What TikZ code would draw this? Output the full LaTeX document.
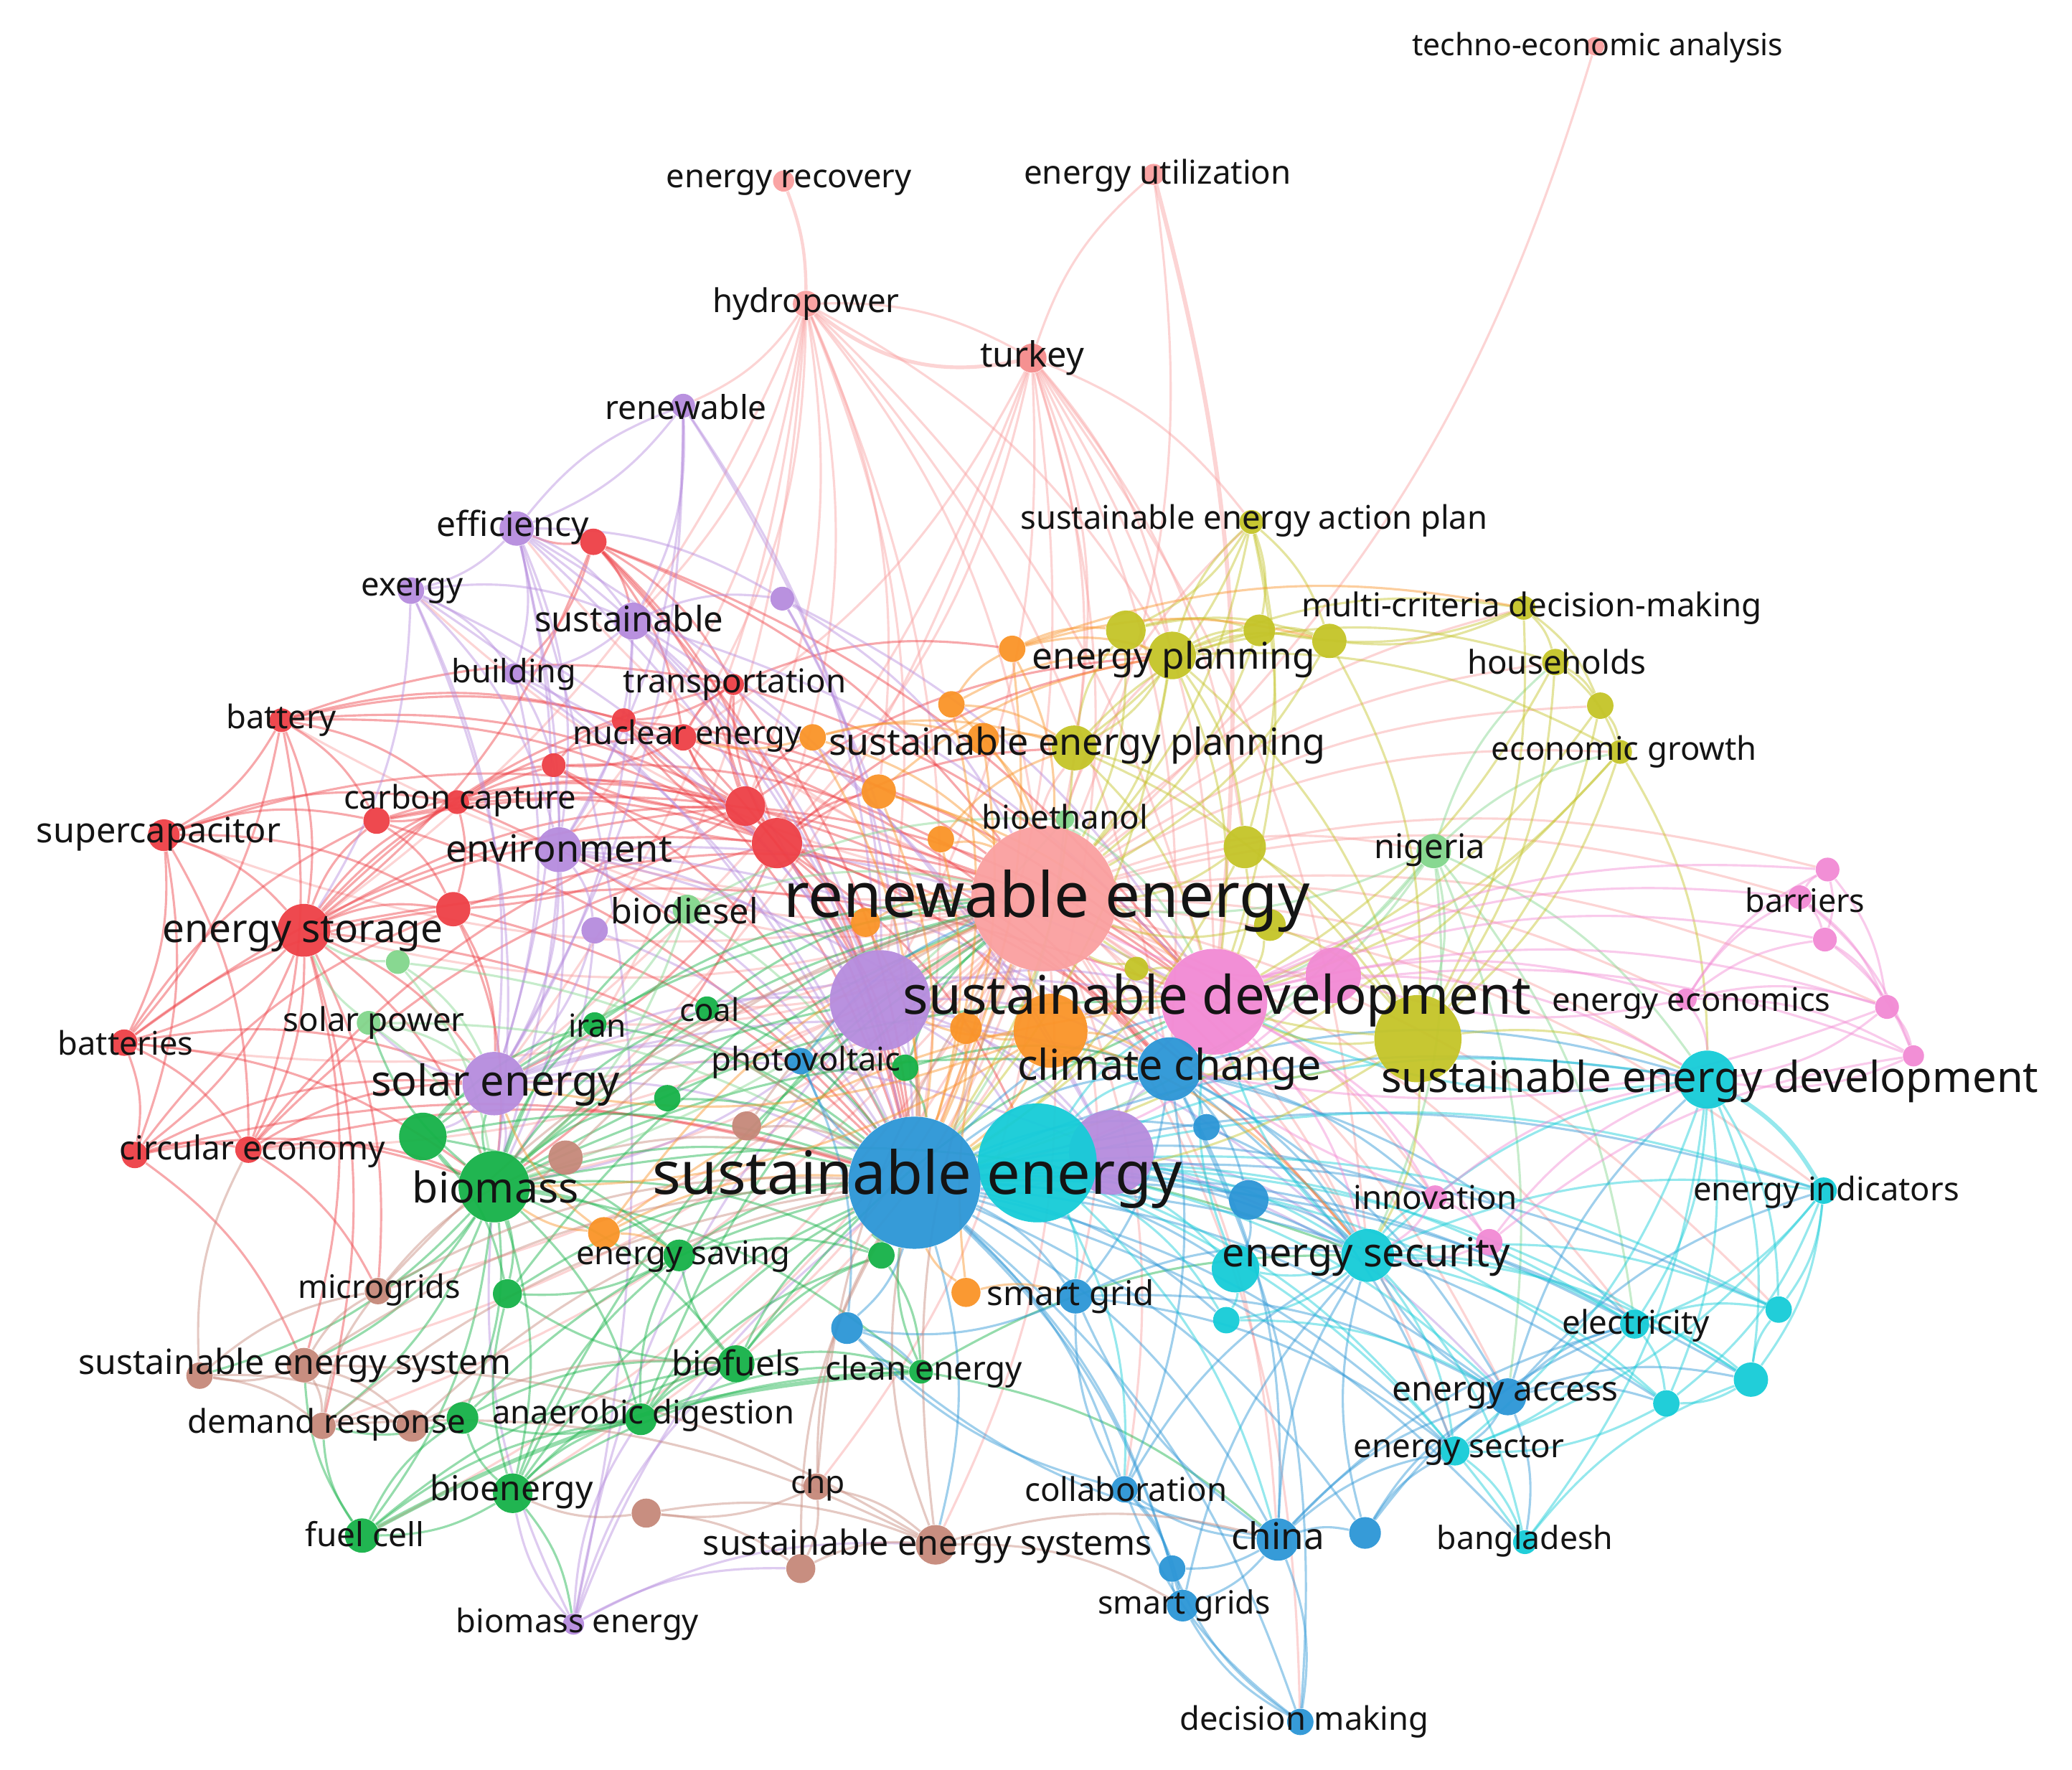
\documentclass[tikz,border=0pt]{standalone}
\usepackage{fontspec}
\setmainfont{Noto Sans}
\pgfdeclarelayer{bg}
\pgfdeclarelayer{edges}
\pgfsetlayers{bg,edges,main}
\definecolor{cR}{RGB}{238,64,70}
\definecolor{cG}{RGB}{22,178,72}
\definecolor{cLG}{RGB}{130,214,140}
\definecolor{cB}{RGB}{44,150,214}
\definecolor{cC}{RGB}{22,204,216}
\definecolor{cY}{RGB}{196,196,40}
\definecolor{cP}{RGB}{182,140,222}
\definecolor{cO}{RGB}{250,148,40}
\definecolor{cBr}{RGB}{198,136,122}
\definecolor{cPk}{RGB}{242,138,212}
\definecolor{cS}{RGB}{250,160,160}
\definecolor{cS2}{RGB}{245,140,140}
\tikzset{
  nd/.style 2 args={circle, fill=#1, draw=none, inner sep=0pt, minimum size=#2pt, fill opacity=0.95},
  lb/.style={font=\fontsize{#1}{#1}\selectfont, text=black!92, inner sep=0pt},
  ed/.style={draw=#1, line width=0.85pt, draw opacity=0.45},
}
\begin{document}
\begin{tikzpicture}[x=0.5pt, y=-0.5pt]
\begin{pgfonlayer}{bg}
\fill[white] (0,0) rectangle (1568,1339);
\end{pgfonlayer}
\useasboundingbox (0,0) rectangle (1568,1339);
% ---------------- nodes ----------------
\node[nd={cS}{7}] (tea) at (1207,35) {};
\node[nd={cS}{8}] (erc) at (593,137) {};
\node[nd={cS}{8}] (eut) at (873,132) {};
\node[nd={cS}{10}] (hyd) at (610,230) {};
\node[nd={cS2}{11}] (tur) at (781,271) {};
\node[nd={cP}{9}] (ren) at (517,307) {};
\node[nd={cP}{13}] (eff) at (391,400) {};
\node[nd={cR}{10}] (rE) at (449,410) {};
\node[nd={cP}{10}] (exg) at (311,447) {};
\node[nd={cP}{14}] (sus) at (479,470) {};
\node[nd={cP}{9}] (pU) at (592,453) {};
\node[nd={cP}{8}] (bld) at (389,510) {};
\node[nd={cR}{8}] (trn) at (555,518) {};
\node[nd={cR}{9}] (bat) at (213,545) {};
\node[nd={cR}{9}] (r1) at (472,545) {};
\node[nd={cR}{10}] (nuc) at (517,558) {};
\node[nd={cO}{10}] (o1) at (615,558) {};
\node[nd={cR}{9}] (r2) at (419,579) {};
\node[nd={cR}{9}] (cc) at (346,607) {};
\node[nd={cR}{10}] (r3) at (285,621) {};
\node[nd={cR}{12}] (sup) at (124,632) {};
\node[nd={cP}{17}] (env) at (423,643) {};
\node[nd={cR}{15}] (r5) at (564,610) {};
\node[nd={cR}{19}] (r4) at (588,638) {};
\node[nd={cO}{13}] (o2) at (665,599) {};
\node[nd={cO}{10}] (o3) at (712,635) {};
\node[nd={cO}{10}] (o4) at (720,533) {};
\node[nd={cO}{10}] (o5) at (766,491) {};
\node[nd={cO}{12}] (o6) at (744,559) {};
\node[nd={cLG}{7}] (bet) at (806,620) {};
\node[nd={cY}{15}] (y1) at (852,477) {};
\node[nd={cY}{18}] (ep) at (887,496) {};
\node[nd={cY}{12}] (y2) at (953,477) {};
\node[nd={cY}{13}] (y3) at (1006,485) {};
\node[nd={cY}{9}] (seap) at (947,395) {};
\node[nd={cY}{9}] (mcdm) at (1153,460) {};
\node[nd={cY}{10}] (hh) at (1177,501) {};
\node[nd={cY}{10}] (y4) at (1211,534) {};
\node[nd={cY}{9}] (eg) at (1226,569) {};
\node[nd={cY}{17}] (sep) at (813,566) {};
\node[nd={cY}{16}] (y5) at (942,641) {};
\node[nd={cLG}{13}] (nig) at (1085,644) {};
\node[nd={cS}{55}] (re) at (790,680) {};
\node[nd={cY}{9}] (y6) at (860,733) {};
\node[nd={cY}{12}] (y7) at (961,700) {};
\node[nd={cPk}{9}] (p1) at (1383,658) {};
\node[nd={cPk}{9}] (bar) at (1362,679) {};
\node[nd={cPk}{9}] (p2) at (1381,711) {};
\node[nd={cPk}{9}] (p3) at (1428,762) {};
\node[nd={cPk}{8}] (p4) at (1448,799) {};
\node[nd={cPk}{8}] (eec) at (1276,756) {};
\node[nd={cPk}{40}] (sd) at (919,758) {};
\node[nd={cPk}{21}] (p5) at (1009,738) {};
\node[nd={cY}{33}] (y8) at (1073,786) {};
\node[nd={cC}{22}] (sed) at (1292,817) {};
\node[nd={cC}{10}] (ei) at (1380,901) {};
\node[nd={cP}{38}] (pu2) at (666,757) {};
\node[nd={cO}{12}] (o7) at (731,778) {};
\node[nd={cO}{28}] (o8) at (795,780) {};
\node[nd={cB}{24}] (cch) at (885,809) {};
\node[nd={cP}{32}] (pu3) at (841,872) {};
\node[nd={cC}{45}] (cy1) at (785,880) {};
\node[nd={cB}{50}] (se) at (692,895) {};
\node[nd={cB}{10}] (b1) at (913,853) {};
\node[nd={cB}{15}] (b2) at (945,908) {};
\node[nd={cPk}{9}] (inn) at (1086,906) {};
\node[nd={cPk}{10}] (p6) at (1127,940) {};
\node[nd={cC}{20}] (es) at (1035,950) {};
\node[nd={cC}{18}] (cy2) at (935,960) {};
\node[nd={cC}{10}] (cy3) at (928,999) {};
\node[nd={cB}{13}] (sg) at (814,981) {};
\node[nd={cO}{11}] (o9) at (731,978) {};
\node[nd={cG}{10}] (g1) at (667,950) {};
\node[nd={cB}{12}] (b3) at (641,1005) {};
\node[nd={cC}{11}] (ele) at (1237,1002) {};
\node[nd={cC}{10}] (cy4) at (1346,991) {};
\node[nd={cC}{13}] (cy5) at (1325,1044) {};
\node[nd={cC}{10}] (cy6) at (1261,1062) {};
\node[nd={cB}{14}] (ea) at (1141,1057) {};
\node[nd={cC}{11}] (esc) at (1101,1098) {};
\node[nd={cB}{10}] (col) at (851,1127) {};
\node[nd={cB}{16}] (chn) at (967,1165) {};
\node[nd={cB}{12}] (b4) at (1033,1160) {};
\node[nd={cC}{9}] (bgd) at (1154,1167) {};
\node[nd={cB}{10}] (b5) at (887,1187) {};
\node[nd={cB}{12}] (sgs) at (895,1215) {};
\node[nd={cB}{10}] (dm) at (984,1303) {};
\node[nd={cBr}{15}] (sess) at (708,1169) {};
\node[nd={cBr}{11}] (br1) at (606,1187) {};
\node[nd={cBr}{10}] (chp) at (618,1125) {};
\node[nd={cBr}{11}] (br2) at (489,1145) {};
\node[nd={cP}{8}] (bme) at (434,1229) {};
\node[nd={cG}{15}] (bie) at (388,1130) {};
\node[nd={cG}{13}] (fc) at (274,1162) {};
\node[nd={cBr}{10}] (dr) at (244,1079) {};
\node[nd={cBr}{12}] (br3) at (312,1079) {};
\node[nd={cG}{12}] (g2) at (350,1073) {};
\node[nd={cG}{12}] (ad) at (485,1074) {};
\node[nd={cBr}{13}] (ses) at (230,1033) {};
\node[nd={cBr}{10}] (br4) at (151,1041) {};
\node[nd={cG}{14}] (bf) at (557,1032) {};
\node[nd={cG}{9}] (ce) at (697,1038) {};
\node[nd={cG}{12}] (esv) at (514,950) {};
\node[nd={cO}{12}] (o10) at (457,933) {};
\node[nd={cBr}{10}] (mg) at (286,977) {};
\node[nd={cG}{11}] (g3) at (384,979) {};
\node[nd={cG}{27}] (bm) at (374,898) {};
\node[nd={cBr}{13}] (br5) at (428,876) {};
\node[nd={cG}{18}] (g4) at (320,860) {};
\node[nd={cP}{24}] (sen) at (374,820) {};
\node[nd={cR}{10}] (ceco) at (188,870) {};
\node[nd={cR}{10}] (r6) at (102,874) {};
\node[nd={cR}{10}] (bts) at (94,789) {};
\node[nd={cLG}{9}] (sp) at (279,774) {};
\node[nd={cG}{9}] (irn) at (450,775) {};
\node[nd={cG}{9}] (coal) at (535,763) {};
\node[nd={cB}{10}] (pv) at (606,803) {};
\node[nd={cG}{10}] (g5) at (685,808) {};
\node[nd={cG}{10}] (g6) at (505,831) {};
\node[nd={cBr}{11}] (br6) at (565,852) {};
\node[nd={cR}{20}] (est) at (230,704) {};
\node[nd={cLG}{9}] (lg1) at (301,728) {};
\node[nd={cR}{13}] (r7) at (343,688) {};
\node[nd={cLG}{11}] (bd) at (520,688) {};
\node[nd={cP}{10}] (pu4) at (450,704) {};
\node[nd={cO}{11}] (o11) at (655,698) {};
% ---------------- edges ----------------
\begin{pgfonlayer}{edges}
\foreach \a/\b in {hyd/tur, hyd/ren, hyd/re, hyd/env, hyd/sus, hyd/sen, hyd/se, hyd/sd, hyd/r5, hyd/bm, hyd/cch, hyd/nuc, hyd/est, hyd/ep, hyd/r4, hyd/o2, hyd/pu2,
 tur/eut, tur/re, tur/sd, tur/se, tur/ep, tur/sep, tur/cch, tur/bm, tur/sen, tur/nuc, tur/y5, tur/seap, tur/es, tur/r4, tur/pu2, tur/o8,
 eut/re, tea/re,
 re/se, re/sd, re/cch, re/sen, re/bm, re/est, re/env, re/es, re/sed, re/nig, re/ep, re/sep, re/sus, re/eff, re/bat, re/sup, re/bts, re/ceco, re/bf, re/bie, re/sg, re/chn, re/ea, re/ele, re/bar, re/eec, re/hh, re/mcdm, re/eg, re/seap, re/pv, re/coal, re/irn, re/bd, re/chp, re/mg, re/fc, re/ad, re/inn, re/dm, re/col, re/ei, re/ses, re/dr, re/sess, re/esc, re/p1, re/p3, re/cy4, re/y4, re/exg}
  \draw[ed=cS] (\a) to[bend left=15] (\b);
\draw[ed=cS, line width=1.2pt] (hyd) to[bend right=10] (erc);
\draw[ed=cS, line width=1.6pt] (eut) to[bend left=10] (sd);
\draw[ed=cS, line width=1.4pt] (hyd) to[bend right=25] (tur);
\foreach \a/\b in {rE/sus, rE/bld, rE/est, rE/r5, rE/re, rE/trn, rE/nuc, rE/r4, rE/eff, rE/se, rE/sd,
 bat/sup, bat/est, bat/bts, bat/ceco, bat/r3, bat/cc, bat/trn, bat/nuc, bat/r5, bat/r4, bat/r1,
 sup/est, sup/bts, sup/ceco, sup/cc, sup/r3, sup/r6, sup/r5, sup/r7,
 est/bts, est/ceco, est/r6, est/r7, est/cc, est/r3, est/r2, est/r5, est/r4, est/sen, est/bm, est/se, est/sd, est/mg, est/ses, est/dr, est/trn,
 bts/ceco, bts/r6, bts/r3, bts/sen, bts/bm, bts/r5, bts/r7,
 r6/ceco, r6/bm, r6/sen, r6/se, r6/ses, r6/r7,
 ceco/bm, ceco/se, ceco/sen, ceco/r5, ceco/mg, ceco/r4,
 cc/r3, cc/r2, cc/r5, cc/r4, cc/nuc, cc/r7, cc/se,
 r3/r7, r3/r4, r3/r5, r3/re, r3/se,
 r4/se, r4/sd, r4/cch, r4/trn, r4/nuc, r4/r1, r4/r2, r4/pu2, r4/o8, r4/ep, r4/sep, r4/o2, r4/cy1, r4/es, r4/bm, r4/sen,
 r5/se, r5/sd, r5/trn, r5/nuc, r5/r1, r5/r2, r5/ep, r5/o1, r5/cch, r5/r7, r5/pu2,
 nuc/trn, nuc/r1, nuc/r2, nuc/se, nuc/cch, nuc/sd,
 trn/r1, trn/se, trn/sd, trn/o5,
 r7/sen, r7/bm, r7/se, r7/re,
 r2/se, r2/re, r2/r1, r1/se, r1/re}
  \draw[ed=cR] (\a) to[bend left=15] (\b);
\foreach \a/\b in {eff/exg, eff/sus, eff/bld, eff/ren, eff/env, eff/sen, eff/se, eff/pu2, eff/pu3, eff/bme, eff/pU, eff/bm,
 exg/sus, exg/bld, exg/env, exg/sen, exg/pu2, exg/bm, exg/est, exg/se,
 sus/bld, sus/env, sus/pu2, sus/se, sus/sen, sus/pU, sus/sd, sus/pu3,
 ren/sus, ren/env, ren/pu2, ren/se, ren/eff, ren/sen,
 pU/pu2, pU/se, pU/re, pU/sd,
 bld/env, bld/se, bld/pu2, bld/sen,
 env/pu2, env/sen, env/pu4, env/se, env/sd, env/bm, env/cch, env/pu3,
 sen/pu2, sen/se, sen/bm, sen/pu3, sen/pv, sen/sp, sen/g4, sen/sd, sen/cch,
 pu2/se, pu2/sd, pu2/cch, pu2/cy1, pu2/pu3, pu2/bm, pu2/es,
 pu3/se, pu3/sd, pu3/cch, pu3/es, pu3/ea,
 bme/bie, bme/bm, bme/sess, bme/br1, bme/pu2, bme/ad, bme/bf, bme/se,
 pu4/sen, pu4/se, pu4/bm}
  \draw[ed=cP] (\a) to[bend left=15] (\b);
\foreach \a/\b in {bm/g4, bm/sen, bm/bie, bm/fc, bm/ad, bm/bf, bm/g3, bm/esv, bm/se, bm/re, bm/irn, bm/coal, bm/g6, bm/g2, bm/ce, bm/g1, bm/sd, bm/cch, bm/bd, bm/sp, bm/ses, bm/mg, bm/dr, bm/br4, bm/pu2, bm/es,
 bie/fc, bie/ad, bie/g2, bie/bf, bie/g3, bie/se, bie/re, bie/ce, bie/esv, bie/bme,
 fc/g2, fc/ad, fc/bf, fc/ses, fc/dr,
 ad/bf, ad/g2, ad/se, ad/re, ad/esv, ad/g1, ad/ce,
 bf/se, bf/ce, bf/esv, bf/g1, bf/g3, bf/sd,
 g4/sen, g4/se, g4/re, g4/esv, g4/irn, g4/g3,
 esv/se, esv/g1, esv/re, esv/g3,
 g1/se, g1/ce,
 ce/se, ce/es, ce/chn,
 irn/se, irn/re, coal/se, coal/re, g6/se, g6/re, g5/se, g5/re, g5/cch, g3/se, g3/re, g2/se, g2/dr, g2/bf}
  \draw[ed=cG] (\a) to[bend left=15] (\b);
\draw[ed=cG, line width=1.6pt] (fc) to[bend left=12] (ce);
\foreach \a/\b in {bd/re, bd/se, bd/bm, bd/bet, bd/sen, bet/re, bet/se, bet/sd, bet/bm,
 nig/re, nig/sd, nig/se, nig/es, nig/sed, nig/eg, nig/hh, nig/ea, nig/ele, nig/cch, nig/y8,
 sp/est, sp/sen, sp/bm, sp/se, lg1/est, lg1/bm, lg1/sen, lg1/se}
  \draw[ed=cLG] (\a) to[bend left=15] (\b);
\foreach \a/\b in {se/sd, se/cch, se/es, se/sg, se/chn, se/ea, se/ele, se/sed, se/col, se/dm, se/sgs, se/b5, se/b4, se/esc, se/b1, se/b2, se/b3, se/pv, se/inn, se/ei, se/cy4, se/cy5, se/cy6, se/bgd, se/sess, se/cy2, se/cy3,
 cch/sd, cch/es, cch/chn, cch/ea, cch/sed, cch/b2, cch/sg, cch/col, cch/inn, cch/ele, cch/dm, cch/b1, cch/esc,
 chn/sgs, chn/b5, chn/b4, chn/col, chn/dm, chn/es, chn/esc, chn/ea, chn/sg, chn/b3, chn/ele,
 dm/b5, dm/sgs, dm/col,
 col/sgs, col/b5, col/sg, col/b3, col/es,
 sgs/b5, sgs/es,
 sg/b3, sg/es, sg/ea, sg/esc,
 b4/esc, b4/ea, b4/es, b4/ele,
 ea/esc, ea/es, ea/cy6, ea/cy5, ea/ele, ea/ei, ea/sed, ea/bgd,
 pv/b3, pv/re, b1/es, b2/es, b2/cy2, b3/ce}
  \draw[ed=cB] (\a) to[bend left=15] (\b);
\foreach \a/\b in {cy1/sd, cy1/es, cy1/sed, cy1/ea, cy1/ele, cy1/chn, cy1/cy2, cy1/cy3, cy1/esc, cy1/ei, cy1/cy4, cy1/cy5, cy1/cy6, cy1/bgd, cy1/sg, cy1/col, cy1/cch,
 es/sed, es/ele, es/ei, es/cy4, es/cy5, es/cy6, es/esc, es/bgd, es/cy2, es/cy3, es/inn, es/sd,
 sed/ele, sed/cy4, sed/cy5, sed/cy6, sed/esc, sed/bgd, sed/sd,
 ei/cy4, ei/cy5, ei/ele, ei/cy6, ei/esc,
 ele/cy4, ele/cy5, ele/cy6, ele/esc,
 cy5/cy6, cy5/cy4, cy6/esc, esc/bgd, bgd/cy5, cy2/cy3, cy2/sd, cy3/ea}
  \draw[ed=cC] (\a) to[bend left=15] (\b);
\draw[ed=cC, line width=1.6pt] (sed) to[bend left=14] (ei);
\foreach \a/\b in {ep/y1, ep/y2, ep/y3, ep/seap, ep/mcdm, ep/hh, ep/sep, ep/re, ep/sd, ep/se, ep/y5, ep/y8, ep/eg,
 seap/y1, seap/y2, seap/y3, seap/sep, seap/y5, seap/sd, seap/re,
 mcdm/hh, mcdm/y4, mcdm/y3, mcdm/y8, mcdm/y2,
 hh/y4, hh/eg, hh/y8, hh/sd,
 y4/eg, y4/y8, y4/sd,
 eg/y8, eg/sd, eg/se, eg/sed,
 sep/y5, sep/se, sep/sd, sep/y1, sep/y8, sep/y2,
 y5/re, y5/y8, y5/sd, y5/se,
 y8/sd, y8/re, y8/se, y8/cch, y8/sed, y8/es,
 y1/y2, y1/y3, y2/y3, y1/re, y2/re, y3/re, y3/y8,
 y6/re, y6/sd, y6/se, y7/re, y7/sd, y7/y8}
  \draw[ed=cY] (\a) to[bend left=15] (\b);
\foreach \a/\b in {o8/se, o8/re, o8/sd, o8/cch, o8/sen, o8/bm, o8/o7, o8/es, o8/pu2,
 o1/re, o1/se, o1/sep, o1/o6, o1/nuc,
 o2/re, o2/se, o2/sd, o2/ep,
 o3/re, o3/se, o3/sep,
 o4/re, o4/se, o4/ep, o4/o5, o4/sep,
 o5/ep, o5/re, o5/se, o5/y1, o5/mcdm, o5/y3,
 o6/re, o6/se, o6/sep,
 o7/se, o7/re, o9/se, o9/sg, o9/re,
 o10/bm, o10/se, o10/re, o10/esv, o10/sd, o10/sen,
 o11/re, o11/se}
  \draw[ed=cO] (\a) to[bend left=15] (\b);
\foreach \a/\b in {sd/p5, sd/eec, sd/bar, sd/p1, sd/p2, sd/p3, sd/p4, sd/inn, sd/p6, sd/es,
 eec/bar, eec/p1, eec/p2, eec/p3, eec/p4, eec/sed, eec/p5,
 bar/p1, bar/p2, bar/p3, bar/p4,
 p1/p2, p1/p3, p2/p3, p2/p4, p3/p4,
 p3/sed, p4/sed, p3/cch,
 inn/p6, inn/es, inn/sed, inn/re,
 p6/es, p6/sed, p6/p4,
 p5/re, p5/se, p5/sed}
  \draw[ed=cPk] (\a) to[bend left=15] (\b);
\foreach \a/\b in {ses/br4, ses/dr, ses/mg, ses/br3, ses/sess, ses/se,
 br4/mg, br4/br3, br4/ceco, br4/dr,
 dr/mg, dr/br3, dr/sess, dr/se,
 mg/br5, mg/se, mg/re,
 br5/se, br5/re, br5/bm,
 br6/se, br6/re,
 chp/sess, chp/br2, chp/br1, chp/se, chp/re,
 br2/sess, br2/br1, br2/bie,
 br1/sess, br1/se,
 sess/se, sess/sgs, sess/chn, sess/re,
 br3/se, br3/bf}
  \draw[ed=cBr] (\a) to[bend left=15] (\b);
\end{pgfonlayer}
% ---------------- labels ----------------
\node[lb=11.6] (Ltea) at (1209,36) {techno-economic analysis};
\node[lb=12.3] (Lerc) at (597,138) {energy recovery};
\node[lb=12.4] (Leut) at (876,133) {energy utilization};
\node[lb=12.4] (Lhyd) at (610,230) {hydropower};
\node[lb=13.2] (Ltur) at (781,271) {turkey};
\node[lb=12.5] (Lren) at (519,308) {renewable};
\node[lb=13] (Leff) at (388,399) {efficiency};
\node[lb=12.3] (Lexg) at (312,447) {exergy};
\node[lb=13.3] (Lsus) at (476,468) {sustainable};
\node[lb=12.2] (Lbld) at (389,510) {building};
\node[lb=12.4] (Ltrn) at (556,518) {transportation};
\node[lb=12.3] (Lbat) at (213,545) {battery};
\node[lb=12.3] (Lnuc) at (520,557) {nuclear energy};
\node[lb=12.3] (Lcc) at (348,606) {carbon capture};
\node[lb=13.2] (Lsup) at (120,631) {supercapacitor};
\node[lb=14.2] (Lenv) at (423,642) {environment};
\node[lb=13.2] (Lbd) at (518,689) {biodiesel};
\node[lb=14.9] (Lest) at (229,707) {energy storage};
\node[lb=12.4] (Lsp) at (283,774) {solar power};
\node[lb=12] (Lirn) at (452,776) {iran};
\node[lb=11.9] (Lcoal) at (537,764) {coal};
\node[lb=12.3] (Lbts) at (95,789) {batteries};
\node[lb=12.3] (Lpv) at (610,804) {photovoltaic};
\node[lb=16.1] (Lsen) at (375,821) {solar energy};
\node[lb=12.5] (Lceco) at (191,871) {circular economy};
\node[lb=16] (Lbm) at (375,898) {biomass};
\node[lb=22.5] (Lse) at (694,892) {sustainable energy};
\node[lb=12.3] (Lesv) at (517,951) {energy saving};
\node[lb=12.2] (Lmg) at (287,976) {microgrids};
\node[lb=12.9] (Lsg) at (810,981) {smart grid};
\node[lb=13.1] (Lses) at (223,1033) {sustainable energy system};
\node[lb=13] (Lbf) at (557,1031) {biofuels};
\node[lb=12.4] (Lce) at (699,1038) {clean energy};
\node[lb=12.4] (Ldr) at (247,1078) {demand response};
\node[lb=12.3] (Lad) at (487,1071) {anaerobic digestion};
\node[lb=13] (Lbie) at (387,1129) {bioenergy};
\node[lb=12] (Lchp) at (619,1124) {chp};
\node[lb=12.4] (Lcol) at (852,1127) {collaboration};
\node[lb=12.5] (Lfc) at (276,1161) {fuel cell};
\node[lb=13.1] (Lsess) at (702,1170) {sustainable energy systems};
\node[lb=13.9] (Lchn) at (967,1162) {china};
\node[lb=12.1] (Lbgd) at (1154,1166) {bangladesh};
\node[lb=12.1] (Lsgs) at (896,1215) {smart grids};
\node[lb=12.3] (Lbme) at (437,1229) {biomass energy};
\node[lb=12.3] (Ldm) at (987,1303) {decision making};
\node[lb=13] (Lea) at (1139,1056) {energy access};
\node[lb=12.4] (Lesc) at (1104,1098) {energy sector};
\node[lb=12.4] (Lele) at (1238,1003) {electricity};
\node[lb=12.3] (Lei) at (1382,902) {energy indicators};
\node[lb=15.1] (Les) at (1034,951) {energy security};
\node[lb=12.4] (Linn) at (1086,906) {innovation};
\node[lb=16.2] (Lsed) at (1294,818) {sustainable energy development};
\node[lb=12.3] (Leec) at (1280,759) {energy economics};
\node[lb=12.2] (Lbar) at (1366,681) {barriers};
\node[lb=20.1] (Lsd) at (921,757) {sustainable development};
\node[lb=16.1] (Lcch) at (885,809) {climate change};
\node[lb=23.6] (Lre) at (792,682) {renewable energy};
\node[lb=12.8] (Lnig) at (1082,643) {nigeria};
\node[lb=12.4] (Lbet) at (806,618) {bioethanol};
\node[lb=12.3] (Leg) at (1229,569) {economic growth};
\node[lb=12.4] (Lhh) at (1178,501) {households};
\node[lb=12.4] (Lmcdm) at (1159,460) {multi-criteria decision-making};
\node[lb=12.3] (Lseap) at (949,394) {sustainable energy action plan};
\node[lb=13.9] (Lep) at (888,499) {energy planning};
\node[lb=14.1] (Lsep) at (815,564) {sustainable energy planning};
\end{tikzpicture}
\end{document}
